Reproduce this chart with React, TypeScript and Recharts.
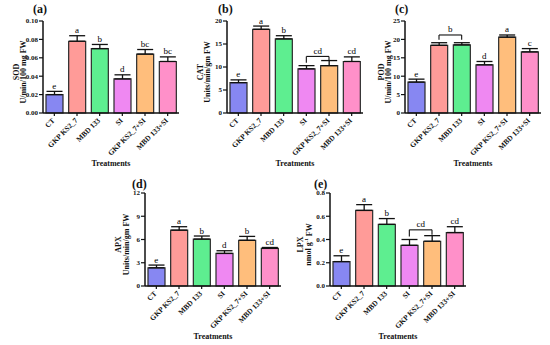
import React from 'react';
import { ComposedChart, Bar, Cell, ErrorBar, XAxis, YAxis, Line, LabelList, ReferenceLine } from 'recharts';

const treatments = ['CT', 'GKP KS2_7', 'MBD 133', 'SI', 'GKP KS2_7+SI', 'MBD 133+SI'];
const barColors = ['#8787f2', '#ff9b98', '#5eee90', '#ef88f2', '#ffbe7c', '#ff90c9'];

const sodMean = [0.020, 0.078, 0.070, 0.037, 0.064, 0.056];
const sodErr = [0.0035, 0.006, 0.0045, 0.0045, 0.005, 0.005];
const sodSig = ['e', 'a', 'b', 'd', 'bc', 'bc'];
const sodTicks = [0, 0.02, 0.04, 0.06, 0.08, 0.1];

const catMean = [6.6, 18.2, 16.1, 9.6, 10.3, 11.2];
const catErr = [0.6, 0.7, 0.7, 0.7, 1.1, 1.0];
const catSig = ['e', 'a', 'b', '', '', 'cd'];
const catTicks = [0, 5, 10, 15, 20];

const podMean = [8.4, 18.4, 18.5, 13.1, 20.6, 16.6];
const podErr = [0.8, 0.7, 0.6, 0.9, 0.6, 0.9];
const podSig = ['e', '', '', 'd', 'a', 'c'];
const podTicks = [0, 5, 10, 15, 20, 25];

const apxMean = [2.35, 7.2, 6.05, 4.2, 5.9, 4.85];
const apxErr = [0.35, 0.45, 0.4, 0.35, 0.5, 0.12];
const apxSig = ['e', 'a', 'b', 'd', 'b', 'cd'];
const apxTicks = [0, 3, 6, 9, 12];

const lpxMean = [0.21, 0.65, 0.53, 0.35, 0.385, 0.46];
const lpxErr = [0.05, 0.05, 0.05, 0.05, 0.048, 0.05];
const lpxSig = ['e', 'a', 'b', '', '', 'cd'];
const lpxTicks = [0, 0.2, 0.4, 0.6, 0.8];

const catBracket = { pair: ['SI', 'GKP KS2_7+SI'], level: 12.3, drop: [10.9, 11.5], sig: 'cd' };
const podBracket = { pair: ['GKP KS2_7', 'MBD 133'], level: 21.2, drop: [19.9, 19.9], sig: 'b' };
const lpxBracket = { pair: ['SI', 'GKP KS2_7+SI'], level: 0.483, drop: [0.425, 0.44], sig: 'cd' };

const font = '"Liberation Serif", "Times New Roman", serif';
const ink = '#111';

const CatTick = (props: any) => {
  const { x, y, payload } = props;
  const tx = x + 1;
  const ty = y + 3;
  return (
    <text x={tx} y={ty} transform={`rotate(-45 ${tx} ${ty})`} textAnchor="end" fontSize={7.4} fontWeight="bold" fontFamily={font} fill={ink}>
      {payload.value}
    </text>
  );
};

// letters of significance, drawn just above a point or a bracket
const sigText = (props: any) => {
  const vb = props.viewBox || props;
  const x = (vb.x ?? props.x) + (vb.width || 0) / 2;
  const y = vb.y ?? props.y;
  if (!props.value) return null;
  return (
    <text x={x} y={y - 2.5} textAnchor="middle" fontSize={9} fill="#000" fontFamily={font}>
      {props.value}
    </text>
  );
};

type Bracket = { pair: string[]; level: number; drop: number[]; sig: string };

type PanelProps = {
  left: number;
  top: number;
  tag: string;
  tagX: number;
  tagY: number;
  name: string;
  unit: React.ReactNode;
  nameX: number;
  unitX: number;
  mean: number[];
  err: number[];
  sig: string[];
  ticks: number[];
  digits: number;
  bottom: number;
  bracket?: Bracket;
};

const Panel = (p: PanelProps) => {
  const rows = treatments.map((t, i) => ({
    name: t,
    mean: p.mean[i],
    err: [0, p.err[i]],
    top: p.mean[i] + p.err[i],
    sig: p.sig[i],
  }));
  const plotTop = 21;
  const plotH = 170 - plotTop - 55 - p.bottom;
  const cy = plotTop + plotH / 2 + 5;
  const plotBottom = plotTop + plotH;

  const labels = () => (
    <g fontFamily={font} fontWeight="bold" fill={ink}>
      <text x={p.tagX} y={p.tagY} fontSize={12}>{p.tag}</text>
      <text x={p.nameX} y={cy} transform={`rotate(-90 ${p.nameX} ${cy})`} textAnchor="middle" dominantBaseline="central" fontSize={8}>
        {p.name}
      </text>
      <text x={p.unitX} y={cy} transform={`rotate(-90 ${p.unitX} ${cy})`} textAnchor="middle" dominantBaseline="central" fontSize={8}>
        {p.unit}
      </text>
      <text x={43 + 68} y={plotBottom + 53} textAnchor="middle" fontSize={8}>
        Treatments
      </text>
    </g>
  );

  const b = p.bracket;

  return (
    <div style={{ position: 'absolute', left: p.left, top: p.top }}>
      <ComposedChart width={184} height={170} data={rows} margin={{ top: plotTop, right: 5, bottom: p.bottom, left: 0 }} barSize={17}>
        <XAxis
          dataKey="name"
          interval={0}
          height={55}
          tick={<CatTick />}
          tickSize={3}
          tickMargin={2}
          tickLine={{ stroke: ink, strokeWidth: 1.2 }}
          axisLine={{ stroke: ink, strokeWidth: 1.5 }}
        />
        <YAxis
          width={43}
          domain={[0, p.ticks[p.ticks.length - 1]]}
          ticks={p.ticks}
          interval={0}
          tickFormatter={(v: number) => v.toFixed(p.digits)}
          tick={{ fontSize: 7, fontWeight: 'bold', fill: ink, fontFamily: font }}
          tickSize={4}
          tickMargin={1}
          tickLine={{ stroke: ink, strokeWidth: 1.2 }}
          axisLine={{ stroke: ink, strokeWidth: 1.5 }}
          label={{ content: labels }}
        />
        <Bar dataKey="mean" stroke="#2a2a2a" strokeWidth={1.2} isAnimationActive={false}>
          {rows.map((r, i) => (
            <Cell key={r.name} fill={barColors[i]} />
          ))}
          <ErrorBar dataKey="err" direction="y" width={8} stroke={ink} strokeWidth={1.3} isAnimationActive={false} />
        </Bar>
        <Line dataKey="top" stroke="none" dot={false} activeDot={false} isAnimationActive={false}>
          <LabelList dataKey="sig" content={sigText} />
        </Line>
        {b && (
          <ReferenceLine
            segment={[{ x: b.pair[0], y: b.level }, { x: b.pair[1], y: b.level }]}
            stroke={ink}
            strokeWidth={1.1}
            label={{ value: b.sig, content: sigText }}
          />
        )}
        {b && (
          <ReferenceLine segment={[{ x: b.pair[0], y: b.level }, { x: b.pair[0], y: b.drop[0] }]} stroke={ink} strokeWidth={1.1} />
        )}
        {b && (
          <ReferenceLine segment={[{ x: b.pair[1], y: b.level }, { x: b.pair[1], y: b.drop[1] }]} stroke={ink} strokeWidth={1.1} />
        )}
      </ComposedChart>
    </div>
  );
}

export default function App() {
  return (
    <div style={{ position: 'absolute', left: 0, top: 0, width: 550, height: 345, background: '#fff', overflow: 'hidden' }}>
      <Panel left={0} top={0} tag="(a)" tagX={33} tagY={13} name="SOD" unit="U/min/100 mg FW" nameX={16} unitX={23.5}
        mean={sodMean} err={sodErr} sig={sodSig} ticks={sodTicks} digits={2} bottom={2} />
      <Panel left={184} top={0} tag="(b)" tagX={34} tagY={13} name="CAT" unit="Units/min/gm FW" nameX={16} unitX={23}
        mean={catMean} err={catErr} sig={catSig} ticks={catTicks} digits={0} bottom={2} bracket={catBracket} />
      <Panel left={362} top={0} tag="(c)" tagX={33} tagY={13} name="POD" unit="U/min/100 mg FW" nameX={19} unitX={26}
        mean={podMean} err={podErr} sig={podSig} ticks={podTicks} digits={0} bottom={2} bracket={podBracket} />
      <Panel left={102} top={172} tag="(d)" tagX={30} tagY={16} name="APX" unit="Units/min/gm FW" nameX={16.5} unitX={24.5}
        mean={apxMean} err={apxErr} sig={apxSig} ticks={apxTicks} digits={0} bottom={1} />
      <Panel left={287} top={172} tag="(e)" tagX={27} tagY={16} name="LPX"
        unit={<>nmol g<tspan dy={-3} fontSize={5}>-1</tspan><tspan dy={3}> FW</tspan></>}
        nameX={13} unitX={21.5}
        mean={lpxMean} err={lpxErr} sig={lpxSig} ticks={lpxTicks} digits={1} bottom={1} bracket={lpxBracket} />
    </div>
  );
}
